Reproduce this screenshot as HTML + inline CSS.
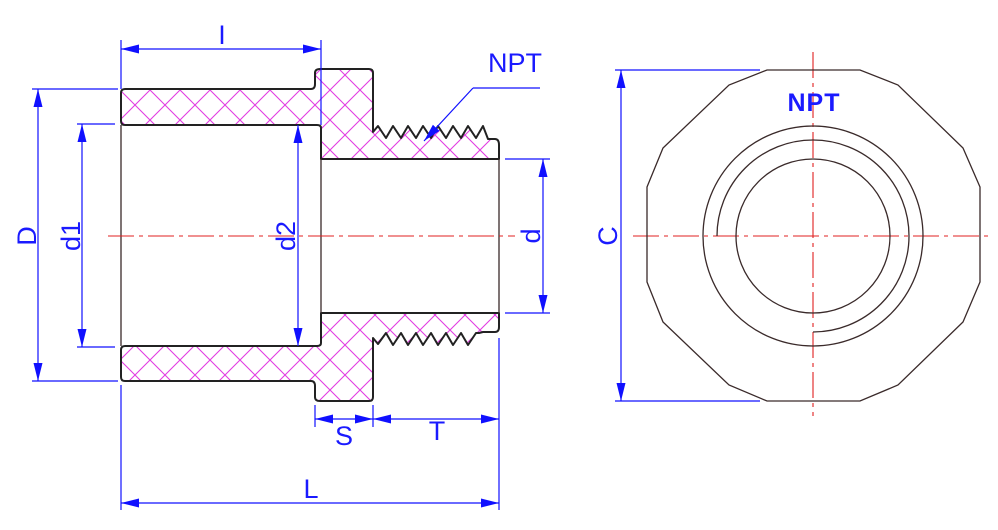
<!DOCTYPE html>
<html><head><meta charset="utf-8"><style>html,body{margin:0;padding:0;background:#fff}svg{display:block}</style></head>
<body>
<svg width="998" height="530" viewBox="0 0 998 530" xmlns="http://www.w3.org/2000/svg">
<defs>
<pattern id="h" patternUnits="userSpaceOnUse" width="30" height="30" x="0" y="0">
<path d="M0 0L30 30M30 0L0 30" stroke="#e23ce2" stroke-width="1.1" fill="none"/>
</pattern>
<marker id="a" markerWidth="18" markerHeight="10" refX="18" refY="5" orient="auto" markerUnits="userSpaceOnUse">
<path d="M0 0.5L18 5L0 9.5Z" fill="#1010ff"/>
</marker>
<marker id="b" markerWidth="18" markerHeight="10" refX="0" refY="5" orient="auto" markerUnits="userSpaceOnUse">
<path d="M18 0.5L0 5L18 9.5Z" fill="#1010ff"/>
</marker>
</defs>
<g fill="url(#h)" stroke="#222" stroke-width="2" stroke-linejoin="round">
<path d="M125 89L311 89Q315 89 315 84L315 73Q315 69 320 69L369 69Q373 69 373 73L373 132L378 126L386 138L393 126L401 138L408 126L416 138L423 126L431 138L438 126L446 138L453 126L461 138L468 126L476 138L483 126L488 139L495 139Q499 139 499 145L499 159L321 159L321 128Q321 125 317 125L125 125Q121 125 121 121L121 93Q121 89 125 89Z"/>
<path d="M125 381L311 381Q315 381 315 386L315 397Q315 401 320 401L369 401Q373 401 373 397L373 338L378 344L386 333L393 345L401 333L408 345L416 333L423 345L431 333L438 345L446 333L453 345L461 333L468 345L476 333L479 333L483 332L495 332Q499 332 499 327L499 313L321 313L321 343Q321 346 317 346L125 346Q121 346 121 350L121 377Q121 381 125 381Z"/>
</g>
<g stroke="#3a2a2a" stroke-width="1.3" fill="none">
<line x1="121" y1="125" x2="121" y2="346"/>
<line x1="321" y1="159" x2="321" y2="313"/>
<line x1="499" y1="159" x2="499" y2="313"/>
</g>
<g stroke="#e02020" stroke-width="1.1" stroke-dasharray="26 5 4 5" fill="none">
<line x1="108" y1="236" x2="515" y2="236"/>
<line x1="633" y1="236" x2="993" y2="236"/>
<line x1="813" y1="52" x2="813" y2="416"/>
</g>
<g stroke="#1010ff" stroke-width="1.2" fill="none">
<line x1="121" y1="40" x2="121" y2="89"/>
<line x1="321" y1="40" x2="321" y2="125"/>
<line x1="121" y1="49" x2="321" y2="49" marker-start="url(#b)" marker-end="url(#a)"/>
<line x1="32" y1="89" x2="118" y2="89"/>
<line x1="32" y1="381" x2="118" y2="381"/>
<line x1="38" y1="89" x2="38" y2="381" marker-start="url(#b)" marker-end="url(#a)"/>
<line x1="77" y1="124" x2="115" y2="124"/>
<line x1="77" y1="347" x2="115" y2="347"/>
<line x1="82" y1="124" x2="82" y2="347" marker-start="url(#b)" marker-end="url(#a)"/>
<line x1="298" y1="125" x2="298" y2="346" marker-start="url(#b)" marker-end="url(#a)"/>
<line x1="505" y1="159" x2="550" y2="159"/>
<line x1="505" y1="313" x2="550" y2="313"/>
<line x1="543" y1="159" x2="543" y2="313" marker-start="url(#b)" marker-end="url(#a)"/>
<line x1="121" y1="385" x2="121" y2="510"/>
<line x1="315" y1="405" x2="315" y2="427"/>
<line x1="373" y1="405" x2="373" y2="427"/>
<line x1="499" y1="338" x2="499" y2="510"/>
<line x1="315" y1="419" x2="373" y2="419" marker-start="url(#b)" marker-end="url(#a)"/>
<line x1="373" y1="419" x2="499" y2="419" marker-start="url(#b)" marker-end="url(#a)"/>
<line x1="121" y1="503" x2="499" y2="503" marker-start="url(#b)" marker-end="url(#a)"/>
<line x1="473" y1="88" x2="540" y2="88"/>
<line x1="473" y1="88" x2="424" y2="141" marker-end="url(#a)"/>
<line x1="615" y1="70" x2="760" y2="70"/>
<line x1="615" y1="401" x2="760" y2="401"/>
<line x1="621" y1="70" x2="621" y2="401" marker-start="url(#b)" marker-end="url(#a)"/>
</g>
<g fill="#1a1aff" font-family="'Liberation Sans',sans-serif" font-size="27">
<text x="222" y="44" text-anchor="middle">I</text>
<text x="311" y="498" text-anchor="middle">L</text>
<text x="344" y="445" text-anchor="middle">S</text>
<text x="437" y="440" text-anchor="middle">T</text>
<text x="515" y="72" text-anchor="middle">NPT</text>
<text transform="translate(36 236) rotate(-90)" text-anchor="middle">D</text>
<text transform="translate(80 236) rotate(-90)" text-anchor="middle">d1</text>
<text transform="translate(295 236) rotate(-90)" text-anchor="middle">d2</text>
<text transform="translate(540 236) rotate(-90)" text-anchor="middle">d</text>
<text transform="translate(617 236) rotate(-90)" text-anchor="middle">C</text>
<text x="814" y="111" text-anchor="middle" font-weight="bold" font-size="25" letter-spacing="1">NPT</text>
</g>
<g stroke="#3a2a2a" stroke-width="1.3" fill="none">
<path d="M767 70L860 70L898 85L963 148L980 187L980 282L963 322L898 385L860 401L767 401L729 385L663 322L647 282L647 187L663 148L729 85Z"/>
<circle cx="813" cy="236" r="110"/>
<circle cx="813" cy="236" r="77"/>
<path d="M717 236A96 96 0 1 1 813 332"/>
</g>
</svg>
</body></html>
